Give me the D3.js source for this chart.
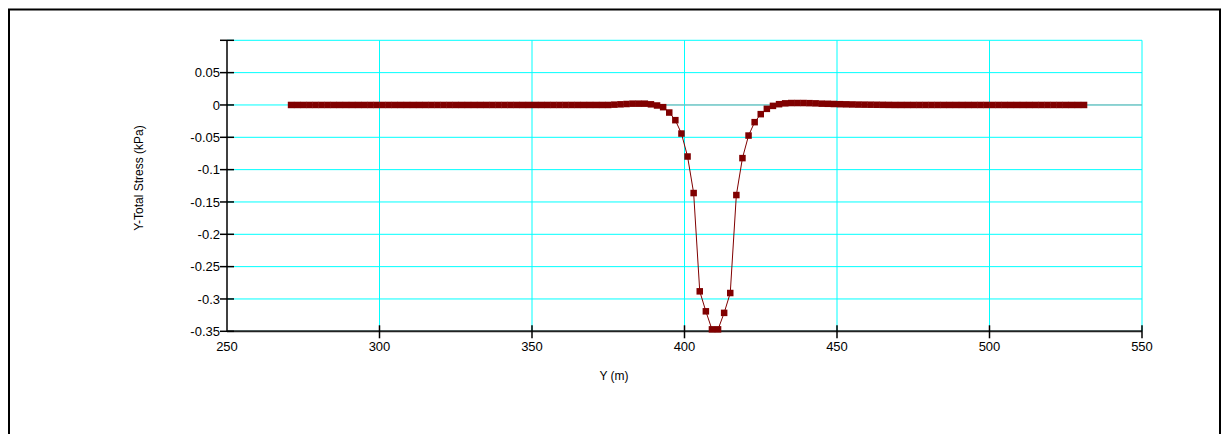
<!DOCTYPE html>
<html>
<head>
<meta charset="utf-8">
<script src="https://cdn.jsdelivr.net/npm/d3@7"></script>
<style>
  html, body { margin: 0; padding: 0; background: #fff; }
  svg { display: block; font-family: "Liberation Sans", Arial, sans-serif; }
</style>
</head>
<body>
<svg id="chart" width="1221" height="434"></svg>
<script>
// Y position along the section (m)
const yPos = [
  271, 273, 275, 277, 279, 281, 283, 285, 287, 289,
  291, 293, 295, 297, 299, 301, 303, 305, 307, 309,
  311, 313, 315, 317, 319, 321, 323, 325, 327, 329,
  331, 333, 335, 337, 339, 341, 343, 345, 347, 349,
  351, 353, 355, 357, 359, 361, 363, 365, 367, 369,
  371, 373, 375, 377, 379, 381, 383, 385, 387, 389,
  391, 393, 395, 397, 399, 401, 403, 405, 407, 409,
  411, 413, 415, 417, 419, 421, 423, 425, 427, 429,
  431, 433, 435, 437, 439, 441, 443, 445, 447, 449,
  451, 453, 455, 457, 459, 461, 463, 465, 467, 469,
  471, 473, 475, 477, 479, 481, 483, 485, 487, 489,
  491, 493, 495, 497, 499, 501, 503, 505, 507, 509,
  511, 513, 515, 517, 519, 521, 523, 525, 527, 529,
  531
];

// Y-Total Stress (kPa)
const stress = [
  0, 0, 0, 0, 0, 0, 0, 0, 0, 0,
  0, 0, 0, 0, 0, 0, 0, 0, 0, 0,
  0, 0, 0, 0, 0, 0, 0, 0, 0, 0,
  0, 0, 0, 0, 0, 0, 0, 0, 0, 0,
  0, 0, 0, 0, 0, 0, 0, 0, 0, 0,
  0, 0, 0, 0.0005, 0.001, 0.0015, 0.002, 0.002, 0.002, 0.001,
  -0.0008, -0.0034, -0.0117, -0.0235, -0.0442, -0.0797, -0.1362, -0.2882, -0.3191, -0.347,
  -0.347, -0.3215, -0.2908, -0.1393, -0.0822, -0.0473, -0.0266, -0.0142, -0.006, -0.0014,
  0.0012, 0.0025, 0.003, 0.003, 0.003, 0.0028, 0.0025, 0.002, 0.0018, 0.0015,
  0.0012, 0.001, 0.0008, 0.0006, 0.0005, 0.0004, 0.0003, 0.0002, 0.0001, 0,
  0, 0, 0, 0, 0, 0, 0, 0, 0, 0,
  0, 0, 0, 0, 0, 0, 0, 0, 0, 0,
  0, 0, 0, 0, 0, 0, 0, 0, 0, 0,
  0
];

const xTicks = [250, 300, 350, 400, 450, 500, 550];
const xTickLabels = ['250', '300', '350', '400', '450', '500', '550'];
const yTicks = [0.1, 0.05, 0, -0.05, -0.1, -0.15, -0.2, -0.25, -0.3, -0.35];
const yTickLabels = ['', '0.05', '0', '-0.05', '-0.1', '-0.15', '-0.2', '-0.25', '-0.3', '-0.35'];

const data = yPos.map((p, i) => ({ x: p, v: stress[i] }));

const svg = d3.select('#chart');

// outer frame
svg.append('rect')
  .attr('x', 9).attr('y', 9.5)
  .attr('width', 1211).attr('height', 440)
  .attr('fill', 'none')
  .attr('stroke', '#000')
  .attr('stroke-width', 2);

const plotLeft = 227, plotRight = 1142, plotTop = 40.3, plotBottom = 331.3;

const x = d3.scaleLinear().domain([250, 550]).range([plotLeft, plotRight]);
const y = d3.scaleLinear().domain([-0.35, 0.1]).range([plotBottom, plotTop]);

// grid
const grid = svg.append('g');
grid.selectAll('line.h')
  .data(yTicks)
  .enter().append('line')
  .attr('x1', plotLeft).attr('x2', plotRight)
  .attr('y1', d => y(d)).attr('y2', d => y(d))
  .attr('stroke', '#00ffff')
  .attr('stroke-width', 1);

grid.selectAll('line.v')
  .data(xTicks.slice(1))
  .enter().append('line')
  .attr('x1', d => x(d)).attr('x2', d => x(d))
  .attr('y1', plotTop).attr('y2', plotBottom)
  .attr('stroke', '#00ffff')
  .attr('stroke-width', 1);

// zero reference line
svg.append('line')
  .attr('x1', x(yPos[0])).attr('x2', plotRight)
  .attr('y1', y(0)).attr('y2', y(0))
  .attr('stroke', '#9aa8a8')
  .attr('stroke-width', 1);

// axes
const axes = svg.append('g').attr('font-size', 13).attr('fill', '#000');

axes.append('line')
  .attr('x1', plotLeft).attr('x2', plotLeft)
  .attr('y1', plotTop).attr('y2', plotBottom)
  .attr('stroke', '#000').attr('stroke-width', 1.5);

axes.append('line')
  .attr('x1', plotLeft).attr('x2', plotRight)
  .attr('y1', plotBottom).attr('y2', plotBottom)
  .attr('stroke', '#222').attr('stroke-width', 2);

axes.selectAll('line.yt')
  .data(yTicks)
  .enter().append('line')
  .attr('x1', plotLeft - 7).attr('x2', plotLeft + 7)
  .attr('y1', d => y(d)).attr('y2', d => y(d))
  .attr('stroke', '#000').attr('stroke-width', 1.5);

axes.selectAll('text.yl')
  .data(yTicks)
  .enter().append('text')
  .attr('x', plotLeft - 7)
  .attr('y', d => y(d))
  .attr('dy', '0.35em')
  .attr('text-anchor', 'end')
  .text((d, i) => yTickLabels[i]);

axes.selectAll('line.xt')
  .data(xTicks.slice(1))
  .enter().append('line')
  .attr('x1', d => x(d)).attr('x2', d => x(d))
  .attr('y1', plotBottom - 6).attr('y2', plotBottom + 7)
  .attr('stroke', '#000').attr('stroke-width', 1.5);

axes.selectAll('text.xl')
  .data(xTicks)
  .enter().append('text')
  .attr('x', d => x(d))
  .attr('y', plotBottom + 20)
  .attr('text-anchor', 'middle')
  .text((d, i) => xTickLabels[i]);

// titles
svg.append('text')
  .attr('x', 614)
  .attr('y', 380)
  .attr('text-anchor', 'middle')
  .attr('font-size', 12)
  .text('Y (m)');

svg.append('text')
  .attr('transform', 'translate(143,178) rotate(-90)')
  .attr('text-anchor', 'middle')
  .attr('font-size', 12)
  .text('Y-Total Stress (kPa)');

// series
const line = d3.line()
  .x(d => x(d.x))
  .y(d => y(d.v));

svg.append('path')
  .datum(data)
  .attr('d', line)
  .attr('fill', 'none')
  .attr('stroke', '#800000')
  .attr('stroke-width', 1);

const ms = 6.5;
svg.selectAll('rect.pt')
  .data(data)
  .enter().append('rect')
  .attr('class', 'pt')
  .attr('x', d => x(d.x) - ms / 2)
  .attr('y', d => y(d.v) - ms / 2)
  .attr('width', ms).attr('height', ms)
  .attr('fill', '#800000');
</script>
</body>
</html>
